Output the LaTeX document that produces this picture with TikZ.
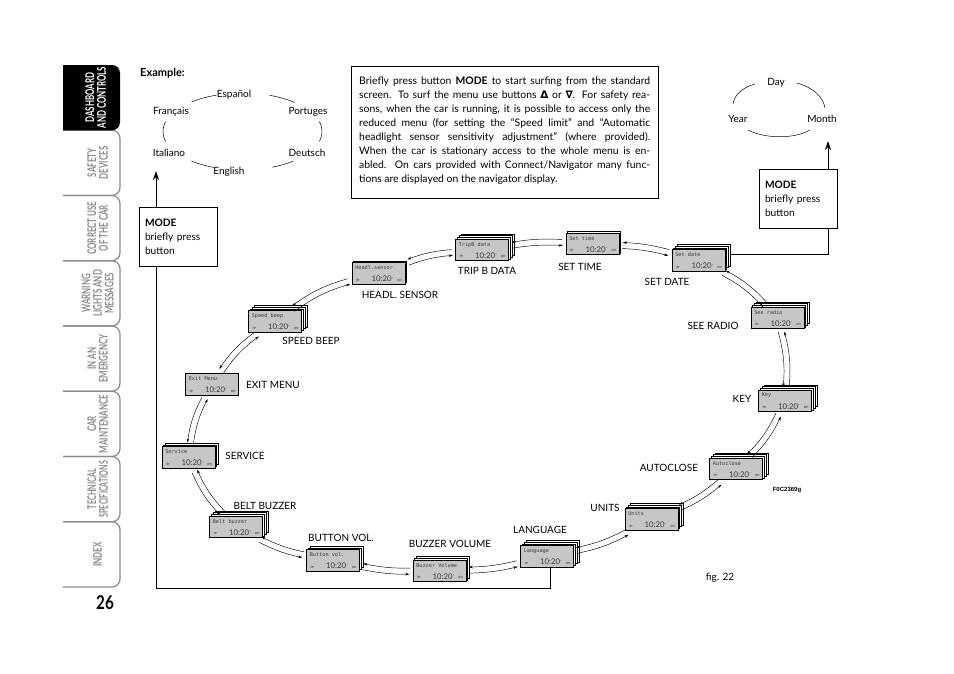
\documentclass[tikz,border=0pt]{standalone}
\usepackage{fontspec}
\setmainfont{Lato}
\newfontfamily\monof{DejaVu Sans Mono}
\newfontfamily\djv{DejaVu Sans}
\newfontfamily\arialf{Liberation Sans}
\usetikzlibrary{calc,arrows.meta}

\definecolor{tabgray}{HTML}{8A8A8A}
\definecolor{lcdgray}{HTML}{C6C6C6}
\definecolor{lcdink}{HTML}{3A3A3A}

\tikzset{
  lcdfront/.style={draw=black, line width=0.7pt, fill=lcdgray, minimum width=53pt, minimum height=21.5pt, inner sep=0pt},
  lcdback/.style={draw=black, line width=0.7pt, fill=white, minimum width=53pt, minimum height=21.5pt, inner sep=0pt},
  lcdtop/.style={font=\monof\fontsize{5.2}{5.2}\selectfont, text=lcdink, inner sep=0pt},
  lcdclk/.style={font=\fontsize{7.8}{7.8}\selectfont, text=lcdink, inner sep=0pt},
  lcdtiny/.style={font=\djv\fontsize{3.8}{3.8}\selectfont, text=lcdink, inner sep=0pt},
  menulabel/.style={font=\fontsize{10}{10}\selectfont, inner sep=0pt},
  wordlabel/.style={font=\fontsize{10}{10}\selectfont, inner sep=0pt},
  link/.style={line width=0.45pt, shorten <=3pt, shorten >=3pt},
  ccw/.style={arrows={Stealth[length=4pt,width=2.6pt]-}},
  cw/.style={arrows={-Stealth[length=4pt,width=2.6pt]}},
  modebox/.style={draw, line width=0.8pt, text width=66pt, align=left, inner xsep=6pt, inner ysep=0pt, minimum height=59pt, font=\fontsize{10.2}{14}\selectfont},
  modeline/.style={line width=0.9pt},
  modearr/.style={line width=0.9pt, arrows={-Stealth[length=9pt,width=6pt]}},
  tabline/.style={draw=tabgray, line width=1.2pt},
  tabtext/.style={font=\bfseries\fontsize{12}{9.6}\selectfont, text=tabgray, inner sep=0pt},
  thinarc/.style={line width=0.5pt},
}

\newcommand\lcd[4]{%
  \foreach \k in {3,2,1}{\ifnum\k>#4\relax\else
    \node[lcdback] (#1b\k) at ($(#2)+({1.8*\k},{-1.8*\k})$) {};\fi}
  \node[lcdfront] (#1) at (#2) {};
  \node[lcdtop, anchor=north west] (#1t) at ($(#1.north west)+(3.5,3)$) {#3};
  \node[lcdtiny, anchor=south west] (#1i) at ($(#1.south west)+(4,-3)$) {≫};
  \node[lcdclk, anchor=south] (#1c) at ($(#1.south)+(4,-2.5)$) {10:20\raisebox{2.5pt}{\tiny -}};
  \node[lcdtiny, anchor=south east] (#1u) at ($(#1.south east)+(-3,-3)$) {on};
}

\newcommand\duo[5]{%
  \draw[link, ccw, transform canvas={shift={(#3,#4)}}] (#1) to[bend left=#5] (#2);
  \draw[link, cw, transform canvas={shift={({-1*(#3)},{-1*(#4)})}}] (#1) to[bend left=#5] (#2);
}

\newcommand\sidetab[3][0.66]{%
  \pgfmathsetmacro\ttop{65+65.25*#2}
  \pgfmathsetmacro\tbot{65+65.25*(#2+1)}
  \draw[tabline, rounded corners=8pt] (63,\ttop) -- (120,\ttop) -- (120,\tbot) -- (63,\tbot);
  \node[tabtext, rotate=90] (tab#2) at (99,{(\ttop+\tbot)/2}) {\scalebox{#1}[1]{\begin{tabular}{@{}c@{}}#3\end{tabular}}};
}

\begin{document}
\begin{tikzpicture}[x=1pt,y=-1pt]
\fill[white] (0,0) rectangle (954,673);
\useasboundingbox (0,0) rectangle (954,673);

% ---------- side tabs ----------
\sidetab{1}{SAFETY\\DEVICES}
\sidetab{2}{CORRECT USE\\OF THE CAR}
\sidetab{3}{WARNING\\LIGHTS AND\\MESSAGES}
\sidetab{4}{IN AN\\EMERGENCY}
\sidetab{5}{CAR\\MAINTENANCE}
\sidetab[0.6]{6}{TECHNICAL\\SPECIFICATIONS}
\sidetab{7}{INDEX}
\fill[black] (63,65) [rounded corners=8pt] -- (120,65) -- (120,130.25) [sharp corners] -- (63,130.25) -- cycle;
\node[tabtext, text=white, rotate=90] (tab0) at (97,97.6) {\scalebox{0.66}[1]{\begin{tabular}{@{}c@{}}DASHBOARD\\AND CONTROLS\end{tabular}}};
\node[font=\bfseries\fontsize{19}{19}\selectfont, inner sep=0pt] (pagenum) at (105,603) {\scalebox{0.8}[1]{26}};

% ---------- example ----------
\node[font=\bfseries\fontsize{11}{11}\selectfont, anchor=west, inner sep=0pt] (example) at (140,73) {Example:};
\node[wordlabel] (esp) at (234,95) {Español};
\node[wordlabel] (fra) at (171,112) {Français};
\node[wordlabel] (por) at (308,112) {Portuges};
\node[wordlabel] (ita) at (169,153) {Italiano};
\node[wordlabel] (deu) at (307,153) {Deutsch};
\node[wordlabel] (eng) at (229,172) {English};
\foreach \a/\b in {109/130, 49/70, 165/195, -15/15, 230/249, 292/310}{
  \draw[thinarc] plot[domain=\a:\b, samples=20, smooth] ({242.5+79.5*cos(\x)},{131.5-38.5*sin(\x)});
}

% ---------- MODE box left ----------
\node[modebox] (modeL) at (178,236.5) {\textbf{MODE}\\briefly press\\button};
\coordinate (tipL) at (156,171);
\coordinate (cornL) at (156,588);
\coordinate (cornL2) at (550,588);
\draw[modearr] (modeL.north -| tipL) -- (tipL);

% ---------- info box ----------
\node[draw, line width=0.8pt, minimum width=307pt, minimum height=132pt, inner sep=0pt] (infobox) at (504.5,132) {};
\node[anchor=north west, text width=291pt, align=justify, inner sep=0pt, font=\fontsize{10.4}{14}\selectfont] (infotext) at (359,77) {Briefly press button \textbf{MODE} to start surfing from the standard\linebreak screen. To surf the menu use buttons {\djv\bfseries Δ} or {\djv\bfseries ∇}. For safety rea-\linebreak sons, when the car is running, it is possible to access only the\linebreak reduced menu (for setting the “Speed limit” and “Automatic\linebreak headlight sensor sensitivity adjustment” (where provided).\linebreak When the car is stationary access to the whole menu is en-\linebreak abled. On cars provided with Connect/Navigator many func-\linebreak tions are displayed on the navigator display.};

% ---------- date example ----------
\node[wordlabel] (day) at (776,83) {Day};
\node[wordlabel] (year) at (738,119) {Year};
\node[wordlabel] (month) at (822,119) {Month};
\draw[thinarc] (755,84) .. controls (741,88) and (734,96) .. (733,104);
\draw[thinarc] (797,83) .. controls (814,88) and (823,97) .. (825,108);
\draw[thinarc] (748,130) .. controls (765,139) and (795,139) .. (810,130);

\node[modebox] (modeR) at (798,199) {\textbf{MODE}\\briefly press\\button};
\coordinate (tipR) at (828,141);
\coordinate (jR) at (828,254);
\draw[modearr] (modeR.north -| tipR) -- (tipR);

% ---------- displays ----------
\lcd{exit}{212,384.5}{Exit Menu}{0}
\lcd{speed}{275,321.5}{Speed beep}{3}
\lcd{headl}{378.5,273.5}{Headl.sensor}{1}
\lcd{trip}{482,250}{TripB data}{3}
\lcd{settime}{592.5,244}{Set time}{1}
\lcd{setdate}{698.5,260.5}{Set date}{3}
\lcd{radio}{777.5,318}{See radio}{3}
\lcd{key}{785,401}{Key}{3}
\lcd{autoclose}{736,469}{Autoclose}{3}
\lcd{units}{651.5,519.5}{Units}{3}
\lcd{lang}{547,556.5}{Language}{3}
\lcd{buzzer}{439.5,571}{Buzzer Volume}{2}
\lcd{button}{333,560.5}{Button vol.}{2}
\lcd{belt}{236,527}{Belt buzzer}{3}
\lcd{service}{188.5,457.5}{Service}{2}

% MODE lines
\draw[modeline] (modeL.south -| tipL) -- (cornL) -- (cornL2) -- (cornL2 |- lang.south);
\draw[modeline] (modeR.south -| tipR) -- (jR) -- (jR -| setdateb3.east);

% ---------- labels ----------
\node[menulabel] (ltrip) at (487,271) {TRIP B DATA};
\node[menulabel] (lheadl) at (400,295) {HEADL. SENSOR};
\node[menulabel] (lsettime) at (580,267) {SET TIME};
\node[menulabel] (lsetdate) at (667,282) {SET DATE};
\node[menulabel] (lspeed) at (311,341) {SPEED BEEP};
\node[menulabel] (lexit) at (273,385) {EXIT MENU};
\node[menulabel] (lradio) at (713,326) {SEE RADIO};
\node[menulabel] (lkey) at (742,399) {KEY};
\node[menulabel] (lservice) at (245,456) {SERVICE};
\node[menulabel] (lauto) at (669,468) {AUTOCLOSE};
\node[menulabel] (lbelt) at (265,506) {BELT BUZZER};
\node[menulabel] (lunits) at (605,508) {UNITS};
\node[menulabel] (lbutton) at (341,538) {BUTTON VOL.};
\node[menulabel] (lbuzzer) at (450,544) {BUZZER VOLUME};
\node[menulabel] (llang) at (540,530) {LANGUAGE};
\node[font=\arialf\bfseries\fontsize{6}{6}\selectfont, inner sep=0pt] (figcode) at (787,490) {F0C2369g};
\node[font=\fontsize{10}{10}\selectfont, inner sep=0pt] (figno) at (720,578) {fig. 22};

% ---------- connectors ----------
\duo{exit}{speed}{-2.1}{-2.1}{10}
\duo{speed}{headl}{-1.3}{-2.7}{10}
\duo{headl}{trip}{-0.7}{-2.9}{8}
\duo{trip}{settime}{-0.2}{-3}{6}
\duo{settime}{setdate}{0.5}{-3}{6}
\duo{setdate}{radio}{1.8}{-2.4}{10}
\duo{radio}{key}{3}{-0.3}{10}
\duo{key}{autoclose}{2.4}{1.8}{10}
\duo{autoclose}{units}{1.5}{2.6}{8}
\duo{units}{lang}{1}{2.8}{8}
\duo{lang}{buzzer}{0.4}{3}{6}
\duo{buzzer}{button}{-0.3}{3}{6}
\duo{button}{belt}{-1}{2.8}{8}
\duo{belt}{service}{-2.5}{1.7}{10}
\duo{service}{exit}{-2.9}{-0.9}{10}
\end{tikzpicture}
\end{document}
